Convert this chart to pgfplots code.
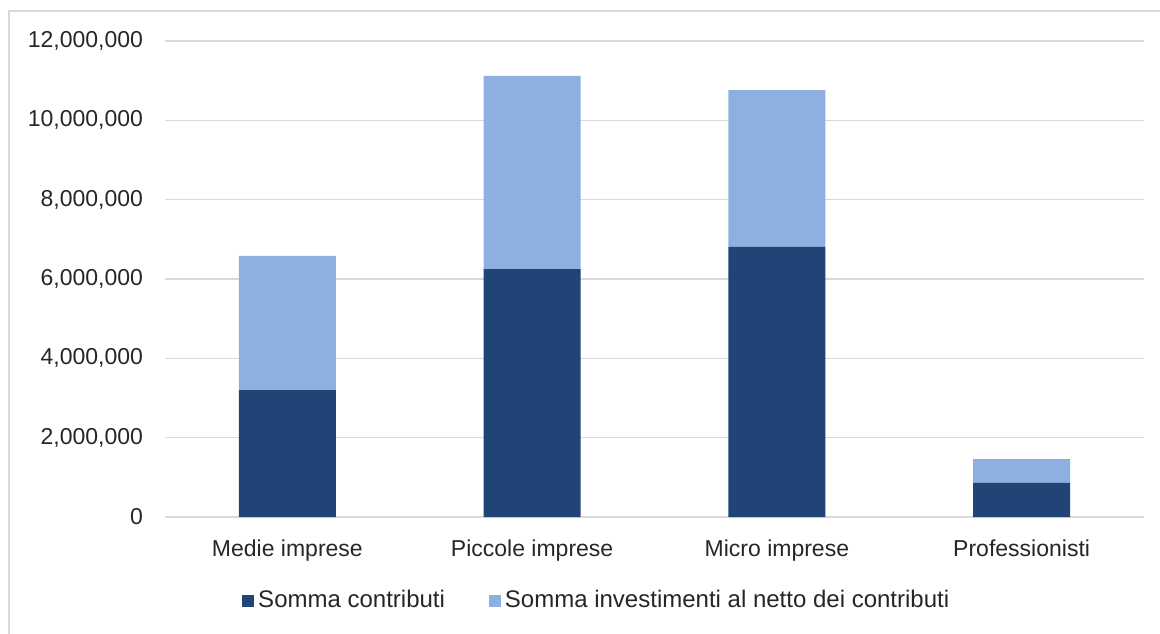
\documentclass[border=0pt]{standalone}
\usepackage{pgfplots}
\pgfplotsset{compat=1.18}
\usepackage{fontspec}
\setmainfont{Liberation Sans}
\definecolor{darkb}{HTML}{214477}
\definecolor{lightb}{HTML}{8EB0E0}
\definecolor{gridg}{HTML}{D9D9D9}
\begin{document}
\begin{tikzpicture}
\path[use as bounding box] (0,0) rectangle (580pt,316.5pt);
\draw[gridg, line width=0.8pt] (4.5pt,-1pt) -- (4.5pt,311pt) -- (581pt,311pt);
\begin{axis}[
  at={(82.5pt,58pt)}, anchor=south west,
  scale only axis, width=489.5pt, height=238pt,
  ybar stacked, bar width=48.5pt,
  xmin=-0.5, xmax=3.5, ymin=0, ymax=12000000,
  xtick={0,1,2,3},
  xticklabels={Medie imprese, Piccole imprese, Micro imprese, Professionisti},
  ytick={0,2000000,4000000,6000000,8000000,10000000,12000000},
  scaled y ticks=false,
  /pgf/number format/fixed, /pgf/number format/precision=0,
  /pgf/number format/1000 sep={,}, /pgf/number format/assume math mode=true,
  tick label style={font=\fontsize{11.5}{13}\selectfont, text=black!85},
  yticklabel style={xshift=-7.5pt},
  xticklabel style={yshift=-8pt},
  major tick length=0pt,
  ymajorgrids, grid style={gridg, line width=0.8pt},
  axis line style={draw=none},
  legend style={at={(0.442,-0.176)}, anchor=center, draw=none, fill=none,
    legend columns=2, font=\fontsize{12}{14}\selectfont, text=black!85,
    /tikz/every even column/.append style={column sep=20pt}},
  legend image code/.code={\fill[#1] (0pt,-3pt) rectangle (6pt,3pt);},
]
\addplot[fill=darkb, draw=none] coordinates {(0,3200000) (1,6250000) (2,6810000) (3,860000)};
\addplot[fill=lightb, draw=none] coordinates {(0,3380000) (1,4870000) (2,3950000) (3,600000)};
\legend{Somma contributi, Somma investimenti al netto dei contributi}
\end{axis}
\end{tikzpicture}
\end{document}
